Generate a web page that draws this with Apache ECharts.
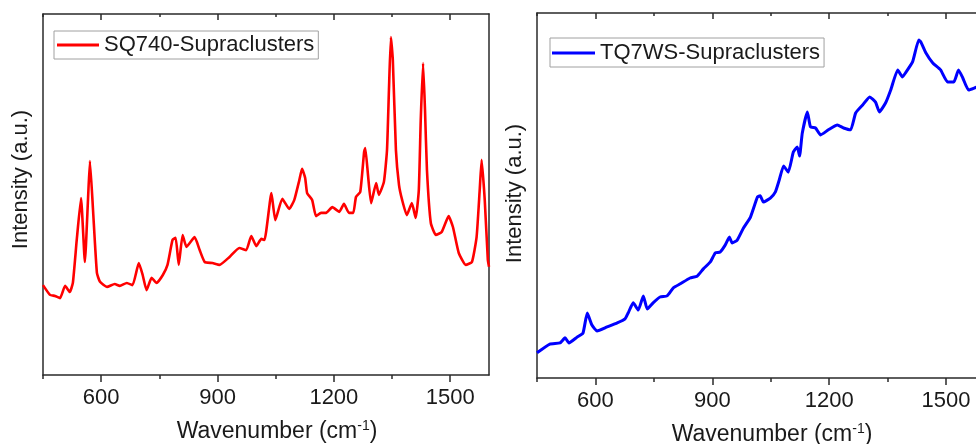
<!DOCTYPE html>
<html>
<head>
<meta charset="utf-8">
<script src="https://cdn.jsdelivr.net/npm/echarts@6/dist/echarts.min.js"></script>
<style>
html,body{margin:0;padding:0;background:#fff;}
#chart{width:976px;height:444px;}
</style>
</head>
<body>
<div id="chart"></div>
<script>
// ---- data (wavenumber in cm-1, intensity in arbitrary units) ----
var sqWavenumber = [450,468,481,494,507,519,527,537,548,558,566,571,579,589,597,615,635,648,666,681,697,707,717,730,743,759,771,784,792,800,810,820,841,854,867,887,905,931,956,974,987,1000,1013,1021,1039,1049,1067,1085,1098,1111,1118,1126,1131,1144,1154,1167,1180,1196,1214,1226,1239,1250,1257,1268,1278,1281,1288,1296,1309,1316,1329,1337,1342,1347,1352,1360,1368,1376,1388,1401,1411,1419,1424,1430,1435,1440,1450,1463,1478,1496,1507,1522,1540,1556,1568,1576,1581,1589,1597,1600];
var sqIntensity  = [249,222,219,213,247,230,255,374,490,313,485,593,457,283,258,244,252,247,255,249,310,277,235,269,255,277,305,374,380,305,388,355,382,346,313,310,305,327,352,346,385,357,377,374,504,429,488,460,485,540,571,546,504,485,440,449,449,465,452,474,449,449,493,507,618,629,554,476,532,499,535,623,789,936,873,623,526,485,443,476,435,512,706,864,734,568,421,388,396,440,410,338,305,313,382,512,596,485,319,300];

var tqWavenumber = [450,483,509,522,532,553,568,579,591,604,630,656,676,684,697,710,723,733,748,766,784,800,818,843,861,877,895,908,920,933,944,951,964,980,998,1016,1023,1031,1049,1062,1072,1083,1095,1108,1118,1124,1131,1144,1152,1165,1178,1198,1221,1237,1255,1268,1286,1304,1319,1329,1345,1358,1376,1388,1396,1414,1430,1435,1448,1466,1486,1504,1520,1532,1543,1558,1579,1600];
var tqIntensity  = [69,93,96,110,96,112,123,178,145,129,140,151,162,178,206,186,225,189,206,222,225,247,258,274,279,299,318,343,345,364,386,370,378,411,441,496,499,482,493,510,543,581,564,619,633,608,671,729,688,685,666,680,693,685,680,726,748,770,756,729,754,789,844,825,836,866,926,921,891,863,844,811,811,844,822,789,797,803];

var majorTicks = [600, 900, 1200, 1500];
var minorTicks = [450, 750, 1050, 1350];
var seriesNames = ['SQ740-Supraclusters', 'TQ7WS-Supraclusters'];
var seriesColors = ['#ff0000', '#0000ff'];

function pairs(xs, ys) {
  var out = [];
  for (var i = 0; i < xs.length; i++) out.push([xs[i], ys[i]]);
  return out;
}

var FONT = 'Liberation Sans, Arial, Helvetica, sans-serif';
var AXIS_COLOR = '#2a2a2a';
var TEXT_COLOR = '#1a1a1a';

var grids = [
  {left: 43, top: 14, width: 446, height: 361, containLabel: false, outerBoundsMode: 'none'},
  {left: 537, top: 13, width: 448, height: 365, containLabel: false, outerBoundsMode: 'none'}
];
var yNamePad = [[0, 0, 0, 30], [0, 0, 0, 4]];

var xAxes = [];
var yAxes = [];
grids.forEach(function (g, gi) {
  var base = {gridIndex: gi, type: 'value', min: 450, max: 1600, interval: 150, splitLine: {show: false}};
  // bottom major axis with labels and name
  xAxes.push(Object.assign({}, base, {
    position: 'bottom',
    axisLine: {show: true, lineStyle: {color: AXIS_COLOR, width: 1.5}},
    axisTick: {show: true, inside: false, length: 7, lineStyle: {color: AXIS_COLOR, width: 1.5}, customValues: majorTicks},
    axisLabel: {show: true, customValues: majorTicks, fontSize: 22, color: TEXT_COLOR, fontFamily: FONT, margin: 12,
      formatter: function (v) { return String(v); }},
    name: '{a|Wavenumber (cm}{b|-1}{a|)}',
    nameLocation: 'middle',
    nameGap: 44,
    nameTextStyle: {
      padding: [0, 0, 0, 22],
      rich: {
        a: {fontSize: 23, color: TEXT_COLOR, fontFamily: FONT},
        b: {fontSize: 14, color: TEXT_COLOR, fontFamily: FONT, verticalAlign: 'top', padding: [0, 0, 12, 0]}
      }
    }
  }));
  // bottom minor ticks
  xAxes.push(Object.assign({}, base, {
    position: 'bottom',
    axisLine: {show: false},
    axisTick: {show: true, inside: false, length: 4, lineStyle: {color: AXIS_COLOR, width: 1.5}, customValues: minorTicks},
    axisLabel: {show: false}
  }));
  // top major ticks (inside)
  xAxes.push(Object.assign({}, base, {
    position: 'top',
    axisLine: {show: true, lineStyle: {color: AXIS_COLOR, width: 1.5}},
    axisTick: {show: true, inside: true, length: 6, lineStyle: {color: AXIS_COLOR, width: 1.5}, customValues: majorTicks},
    axisLabel: {show: false}
  }));
  // top minor ticks (inside)
  xAxes.push(Object.assign({}, base, {
    position: 'top',
    axisLine: {show: false},
    axisTick: {show: true, inside: true, length: 3, lineStyle: {color: AXIS_COLOR, width: 1.5}, customValues: minorTicks},
    axisLabel: {show: false}
  }));
  yAxes.push({
    gridIndex: gi, type: 'value', min: 0, max: 1000, position: 'left',
    axisLine: {show: true, lineStyle: {color: AXIS_COLOR, width: 1.5}},
    axisTick: {show: false}, axisLabel: {show: false}, splitLine: {show: false},
    name: 'Intensity (a.u.)', nameLocation: 'middle', nameGap: 11,
    nameTextStyle: {fontSize: 22, color: TEXT_COLOR, fontFamily: FONT, padding: yNamePad[gi]}
  });
  yAxes.push({
    gridIndex: gi, type: 'value', min: 0, max: 1000, position: 'right',
    axisLine: {show: true, lineStyle: {color: AXIS_COLOR, width: 1.5}},
    axisTick: {show: false}, axisLabel: {show: false}, splitLine: {show: false}
  });
});

var chart = echarts.init(document.getElementById('chart'), null, {renderer: 'canvas'});
chart.setOption({
  animation: false,
  backgroundColor: '#ffffff',
  grid: grids,
  xAxis: xAxes,
  yAxis: yAxes,
  legend: [
    {
      data: [seriesNames[0]], left: 54, top: 31,
      icon: 'rect', itemWidth: 42, itemHeight: 3, itemGap: 0,
      borderColor: '#a0a0a0', borderWidth: 1, padding: [3, 4, 3, 3],
      textStyle: {fontSize: 22, color: TEXT_COLOR, fontFamily: FONT},
      selectedMode: false
    },
    {
      data: [seriesNames[1]], left: 550, top: 38,
      icon: 'rect', itemWidth: 43, itemHeight: 3, itemGap: 0,
      borderColor: '#a0a0a0', borderWidth: 1, padding: [4, 4, 3, 2],
      textStyle: {fontSize: 22, color: TEXT_COLOR, fontFamily: FONT},
      selectedMode: false
    }
  ],
  series: [
    {
      name: seriesNames[0], type: 'line', xAxisIndex: 0, yAxisIndex: 0,
      data: pairs(sqWavenumber, sqIntensity),
      showSymbol: false, symbol: 'none', smooth: 0.15, clip: true,
      color: seriesColors[0],
      lineStyle: {color: seriesColors[0], width: 2.6}
    },
    {
      name: seriesNames[1], type: 'line', xAxisIndex: 4, yAxisIndex: 2,
      data: pairs(tqWavenumber, tqIntensity),
      showSymbol: false, symbol: 'none', smooth: 0.15, clip: true,
      color: seriesColors[1],
      lineStyle: {color: seriesColors[1], width: 3}
    }
  ]
});
</script>
</body>
</html>
